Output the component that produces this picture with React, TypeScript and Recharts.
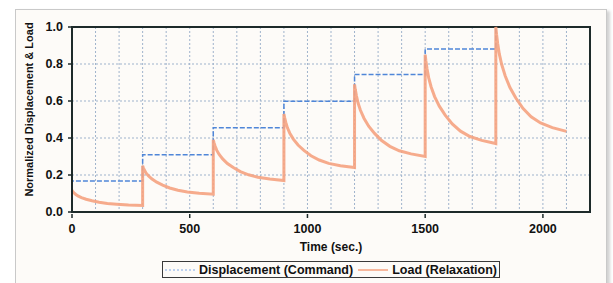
import React from 'react';
import {
    LineChart,
    Line,
    XAxis,
    YAxis,
    CartesianGrid,
    ReferenceArea,
} from 'recharts';

// displacement command: one level per 300 s hold
const stepStarts = [0, 300, 600, 900, 1200, 1500, 1800];
const dispLevels = [0.168, 0.31, 0.455, 0.598, 0.743, 0.881, 1.0];

// load relaxation, sampled at these offsets (s) after each step
const relaxOffsets = [0, 3, 8, 15, 25, 40, 60, 85, 115, 150, 190, 240, 300];
const loadStep1 = [0.117, 0.111, 0.104, 0.096, 0.087, 0.078, 0.069, 0.061, 0.053, 0.046, 0.042, 0.038, 0.035];
const loadStep2 = [0.25, 0.239, 0.225, 0.21, 0.195, 0.178, 0.161, 0.145, 0.13, 0.118, 0.108, 0.101, 0.096];
const loadStep3 = [0.39, 0.375, 0.355, 0.333, 0.311, 0.287, 0.262, 0.24, 0.218, 0.201, 0.188, 0.178, 0.17];
const loadStep4 = [0.53, 0.51, 0.484, 0.455, 0.426, 0.394, 0.362, 0.333, 0.304, 0.281, 0.263, 0.25, 0.24];
const loadStep5 = [0.69, 0.663, 0.628, 0.589, 0.55, 0.507, 0.464, 0.425, 0.386, 0.355, 0.331, 0.314, 0.3];
const loadStep6 = [0.85, 0.816, 0.773, 0.725, 0.677, 0.624, 0.572, 0.524, 0.476, 0.437, 0.408, 0.387, 0.37];
const loadStep7 = [1.0, 0.961, 0.91, 0.853, 0.797, 0.735, 0.673, 0.616, 0.56, 0.515, 0.481, 0.456, 0.436];
const loadSteps = [loadStep1, loadStep2, loadStep3, loadStep4, loadStep5, loadStep6, loadStep7];

const xGridTicks = [0, 100, 200, 300, 400, 500, 600, 700, 800, 900, 1000, 1100, 1200, 1300, 1400, 1500, 1600, 1700, 1800, 1900, 2000, 2100, 2200];
const xLabelTicks = [0, 500, 1000, 1500, 2000];
const yTicks = [0, 0.2, 0.4, 0.6, 0.8, 1.0];

const FONT = "Arial, 'Liberation Sans', sans-serif";
const DISP_COLOR = '#4f86d8';
const LOAD_COLOR = '#f5a27f';
const FRAME = '#1d2a2a';

const dispData: Array<{ t: number; v: number }> = [{ t: 0, v: 0 }];
stepStarts.forEach((s, i) => {
    dispData.push({ t: s, v: dispLevels[i] });
    if (i < stepStarts.length - 1) dispData.push({ t: stepStarts[i + 1], v: dispLevels[i] });
});

const loadData: Array<{ t: number; v: number }> = [];
loadSteps.forEach((vals, i) => {
    vals.forEach((v, k) => loadData.push({ t: stepStarts[i] + relaxOffsets[k], v }));
});

const XTick = (props: any) => {
    const { x, y, payload } = props;
    if (!xLabelTicks.includes(payload.value)) return <g />;
    return (
        <g>
            <line x1={x} x2={x} y1={y} y2={y + 4} stroke={FRAME} strokeWidth={1.5} />
            <text x={x} y={y + 19} textAnchor="middle" fontFamily={FONT} fontWeight="bold" fontSize={12.5} fill="#111">
                {payload.value}
            </text>
        </g>
    );
};

export default function App() {
    return (
        <div style={{ position: 'absolute', left: 0, top: 0, width: 613, height: 283, background: '#fff', overflow: 'hidden' }}>
            <div
                style={{
                    position: 'absolute',
                    left: 15,
                    top: 9,
                    width: 590,
                    height: 290,
                    background: '#fdfbf8',
                    border: '1px solid #c9c9c9',
                    boxShadow: '3px 2px 3px rgba(0,0,0,0.18)',
                }}
            />
            <div style={{ position: 'absolute', left: 0, top: 0 }}>
                <LineChart width={613} height={283} margin={{ top: 27, right: 23, left: 20, bottom: 41 }}>
                    <CartesianGrid stroke="#9fb3cc" strokeDasharray="2 2" />
                    <XAxis
                        dataKey="t"
                        type="number"
                        domain={[0, 2200]}
                        ticks={xGridTicks}
                        interval={0}
                        tick={<XTick />}
                        tickLine={false}
                        tickSize={0}
                        height={30}
                        axisLine={{ stroke: FRAME, strokeWidth: 2 }}
                        label={{
                            content: ({ viewBox }: any) => (
                                <text
                                    x={viewBox.x + viewBox.width / 2}
                                    y={viewBox.y + 39}
                                    textAnchor="middle"
                                    fontFamily={FONT}
                                    fontWeight="bold"
                                    fontSize={12}
                                    fill="#111"
                                >
                                    Time (sec.)
                                </text>
                            ),
                        }}
                    />
                    <YAxis
                        dataKey="v"
                        type="number"
                        domain={[0, 1]}
                        ticks={yTicks}
                        interval={0}
                        width={52}
                        tickSize={4}
                        tickMargin={5}
                        tickLine={{ stroke: FRAME, strokeWidth: 1.5 }}
                        axisLine={{ stroke: FRAME, strokeWidth: 2 }}
                        tickFormatter={(v: number) => v.toFixed(1)}
                        tick={{ fontFamily: FONT, fontWeight: 'bold', fontSize: 12.5, fill: '#111' }}
                        label={{
                            content: ({ viewBox }: any) => {
                                const cx = viewBox.x + 9;
                                const cy = viewBox.y + viewBox.height / 2 - 10;
                                return (
                                    <text
                                        x={cx}
                                        y={cy}
                                        transform={`rotate(-90 ${cx} ${cy})`}
                                        textAnchor="middle"
                                        dominantBaseline="central"
                                        fontFamily={FONT}
                                        fontWeight="bold"
                                        fontSize={11}
                                        fill="#111"
                                    >
                                        Normalized Displacement &amp; Load
                                    </text>
                                );
                            },
                        }}
                    />
                    <Line
                        data={dispData}
                        dataKey="v"
                        type="linear"
                        stroke={DISP_COLOR}
                        strokeWidth={1.5}
                        strokeDasharray="5 2"
                        dot={false}
                        isAnimationActive={false}
                    />
                    <Line
                        data={loadData}
                        dataKey="v"
                        type="linear"
                        stroke={LOAD_COLOR}
                        strokeWidth={3}
                        strokeOpacity={0.9}
                        dot={false}
                        isAnimationActive={false}
                    />
                    <ReferenceArea x1={0} x2={2200} y1={0} y2={1} fill="none" stroke={FRAME} strokeWidth={2} ifOverflow="visible" />
                </LineChart>
            </div>
            {/* legend box under the axis title */}
            <div
                style={{
                    position: 'absolute',
                    left: 162,
                    top: 261,
                    width: 336,
                    height: 15,
                    border: '1.5px solid #3a3a3a',
                    display: 'flex',
                    alignItems: 'center',
                    justifyContent: 'center',
                    fontFamily: FONT,
                    fontWeight: 'bold',
                    fontSize: 12.5,
                    color: '#111',
                    background: '#fdfbf8',
                }}
            >
                <svg width={30} height={6} style={{ marginRight: 4 }}>
                    <line x1={0} x2={30} y1={3} y2={3} stroke="#7fa8e6" strokeWidth={1} strokeDasharray="2 2" />
                </svg>
                <span>Displacement (Command)</span>
                <svg width={30} height={6} style={{ marginLeft: 5, marginRight: 4 }}>
                    <line x1={0} x2={30} y1={3} y2={3} stroke={LOAD_COLOR} strokeWidth={1.5} />
                </svg>
                <span>Load (Relaxation)</span>
            </div>
        </div>
    );
}
